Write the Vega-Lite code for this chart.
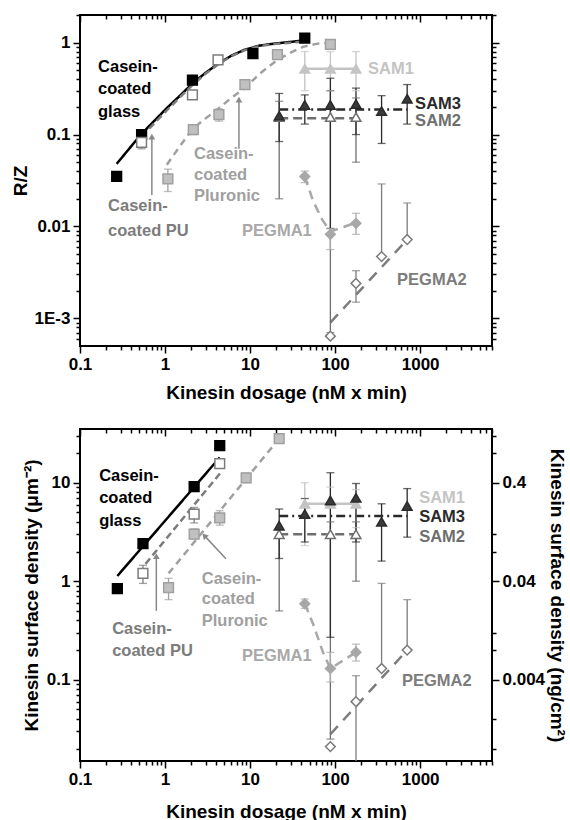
{
"$schema":"https://vega.github.io/schema/vega-lite/v6.json",
"padding":{"left":10,"top":13,"right":0,"bottom":0},
"spacing":24,
"config":{"font":"Liberation Sans","view":{"stroke":"black","strokeWidth":2},
 "axis":{"labelFont":"Liberation Sans","labelFontWeight":"bold","labelFontSize":17,"titleFont":"Liberation Sans","titleFontWeight":"bold","titleFontSize":19,"domain":false,"grid":false,"tickColor":"black","tickWidth":1.5,"labelColor":"black","titleColor":"black","labelFlush":false}},
"datasets":{
 "tl":[
  {"s":"glass","x":0.27,"y":0.048},{"s":"glass","x":0.52,"y":0.1},{"s":"glass","x":1.06,"y":0.196},{"s":"glass","x":1.5,"y":0.265},{"s":"glass","x":2.1,"y":0.36},{"s":"glass","x":3,"y":0.47},{"s":"glass","x":4.2,"y":0.59},{"s":"glass","x":6,"y":0.72},{"s":"glass","x":8.7,"y":0.84},{"s":"glass","x":13,"y":0.93},{"s":"glass","x":20,"y":0.98},{"s":"glass","x":30,"y":1.02},{"s":"glass","x":44,"y":1.06},
  {"s":"PU","x":0.53,"y":0.095},{"s":"PU","x":1.06,"y":0.185},{"s":"PU","x":1.5,"y":0.255},{"s":"PU","x":2.1,"y":0.345},{"s":"PU","x":3,"y":0.46},{"s":"PU","x":4.2,"y":0.58},{"s":"PU","x":6,"y":0.71},{"s":"PU","x":8.7,"y":0.83},{"s":"PU","x":13,"y":0.92},{"s":"PU","x":20,"y":0.97},{"s":"PU","x":30,"y":1.0},{"s":"PU","x":44,"y":1.03},
  {"s":"Pluronic","x":1.05,"y":0.047},{"s":"Pluronic","x":1.5,"y":0.075},{"s":"Pluronic","x":2.1,"y":0.115},{"s":"Pluronic","x":3,"y":0.15},{"s":"Pluronic","x":4.2,"y":0.19},{"s":"Pluronic","x":6,"y":0.25},{"s":"Pluronic","x":8.7,"y":0.32},{"s":"Pluronic","x":13,"y":0.46},{"s":"Pluronic","x":21,"y":0.65},{"s":"Pluronic","x":30,"y":0.78},{"s":"Pluronic","x":42,"y":0.9},{"s":"Pluronic","x":60,"y":0.97},{"s":"Pluronic","x":88,"y":1.0},
  {"s":"SAM1","x":44,"y":0.52},{"s":"SAM1","x":176,"y":0.52},
  {"s":"SAM3","x":22,"y":0.187},{"s":"SAM3","x":704,"y":0.187},
  {"s":"SAM2","x":22,"y":0.15},{"s":"SAM2","x":176,"y":0.15},
  {"s":"PEGMA1","x":44,"y":0.035},{"s":"PEGMA1","x":55,"y":0.019},{"s":"PEGMA1","x":70,"y":0.012},{"s":"PEGMA1","x":88,"y":0.0088},{"s":"PEGMA1","x":176,"y":0.011},
  {"s":"PEGMA2","x":88,"y":0.0009},{"s":"PEGMA2","x":704,"y":0.0072}],
 "tp":[
  {"s":"glass","x":0.27,"y":0.035},{"s":"glass","x":0.53,"y":0.1},{"s":"glass","x":2.1,"y":0.39},{"s":"glass","x":10.8,"y":0.76},{"s":"glass","x":44,"y":1.12},
  {"s":"PU","x":0.53,"y":0.082},{"s":"PU","x":2.1,"y":0.27},{"s":"PU","x":4.2,"y":0.65},
  {"s":"Pluronic","x":1.08,"y":0.033},{"s":"Pluronic","x":2.15,"y":0.113},{"s":"Pluronic","x":4.3,"y":0.165},{"s":"Pluronic","x":8.7,"y":0.35},{"s":"Pluronic","x":21,"y":0.74},{"s":"Pluronic","x":88,"y":0.96},
  {"s":"SAM1","x":44,"y":0.52},{"s":"SAM1","x":88,"y":0.52},{"s":"SAM1","x":176,"y":0.52},
  {"s":"SAM2","x":22,"y":0.155},{"s":"SAM2","x":88,"y":0.155},{"s":"SAM2","x":176,"y":0.155},
  {"s":"SAM3","x":22,"y":0.16},{"s":"SAM3","x":44,"y":0.21},{"s":"SAM3","x":88,"y":0.21},{"s":"SAM3","x":176,"y":0.215},{"s":"SAM3","x":352,"y":0.18},{"s":"SAM3","x":704,"y":0.245},
  {"s":"PEGMA1","x":44,"y":0.035},{"s":"PEGMA1","x":88,"y":0.0082},{"s":"PEGMA1","x":176,"y":0.0108},
  {"s":"PEGMA2","x":88,"y":0.00064},{"s":"PEGMA2","x":176,"y":0.0024},{"s":"PEGMA2","x":352,"y":0.0047},{"s":"PEGMA2","x":704,"y":0.0072}],
 "te":[
  {"s":"PU","x":0.53,"lo":0.07,"hi":0.092},{"s":"PU","x":2.1,"lo":0.25,"hi":0.29},
  {"s":"Pluronic","x":1.08,"lo":0.024,"hi":0.042},{"s":"Pluronic","x":2.15,"lo":0.1,"hi":0.125},{"s":"Pluronic","x":4.3,"lo":0.14,"hi":0.19},{"s":"Pluronic","x":8.7,"lo":0.32,"hi":0.38},{"s":"Pluronic","x":21,"lo":0.68,"hi":0.8},{"s":"Pluronic","x":88,"lo":0.88,"hi":1.05},
  {"s":"SAM1","x":44,"lo":0.3,"hi":0.8},{"s":"SAM1","x":88,"lo":0.3,"hi":0.8},{"s":"SAM1","x":176,"lo":0.3,"hi":0.8},
  {"s":"SAM2","x":22,"lo":0.02,"hi":0.23},{"s":"SAM2","x":88,"lo":0.0007,"hi":0.3},{"s":"SAM2","x":176,"lo":0.05,"hi":0.25},
  {"s":"SAM3","x":22,"lo":0.084,"hi":0.28},{"s":"SAM3","x":44,"lo":0.13,"hi":0.27},{"s":"SAM3","x":88,"lo":0.0095,"hi":0.41},{"s":"SAM3","x":176,"lo":0.1,"hi":0.32},{"s":"SAM3","x":352,"lo":0.08,"hi":0.265},{"s":"SAM3","x":704,"lo":0.13,"hi":0.35},
  {"s":"PEGMA1","x":44,"lo":0.03,"hi":0.04},{"s":"PEGMA1","x":88,"lo":0.0056,"hi":0.0095},{"s":"PEGMA1","x":176,"lo":0.0082,"hi":0.0139},
  {"s":"PEGMA2","x":176,"lo":0.0015,"hi":0.0033},{"s":"PEGMA2","x":352,"lo":0.0047,"hi":0.029},{"s":"PEGMA2","x":704,"lo":0.0072,"hi":0.018}],
 "ta":[{"x":0.7,"y":0.022,"x2":0.7,"y2":0.095,"ang":0},{"x":7.4,"y":0.07,"x2":7.4,"y2":0.24,"ang":0}],
 "tt":[
  {"s":"glass","x":0.163,"y":0.548,"t":"Casein-"},{"s":"glass","x":0.163,"y":0.316,"t":"coated"},{"s":"glass","x":0.163,"y":0.178,"t":"glass"},
  {"s":"PU","x":0.214,"y":0.0165,"t":"Casein-"},{"s":"PU","x":0.214,"y":0.00883,"t":"coated PU"},
  {"s":"Pluronic","x":2.19,"y":0.0622,"t":"Casein-"},{"s":"Pluronic","x":2.19,"y":0.0367,"t":"coated"},{"s":"Pluronic","x":2.19,"y":0.0212,"t":"Pluronic"},
  {"s":"PEGMA1","x":8.05,"y":0.00883,"t":"PEGMA1"},{"s":"PEGMA2","x":536,"y":0.00259,"t":"PEGMA2"},
  {"s":"SAM1","x":244,"y":0.522,"t":"SAM1"},{"s":"SAM3","x":873,"y":0.217,"t":"SAM3"},{"s":"SAM2","x":873,"y":0.142,"t":"SAM2"}],
 "bl":[
  {"s":"glass","x":0.275,"y":1.13},{"s":"glass","x":4.4,"y":18},
  {"s":"PU","x":0.59,"y":1.5},{"s":"PU","x":4.5,"y":12.6},
  {"s":"Pluronic","x":1.1,"y":1.2},{"s":"Pluronic","x":22,"y":28},
  {"s":"SAM1","x":44,"y":6.1},{"s":"SAM1","x":176,"y":6.1},
  {"s":"SAM3","x":22,"y":4.6},{"s":"SAM3","x":704,"y":4.6},
  {"s":"SAM2","x":22,"y":3.0},{"s":"SAM2","x":176,"y":3.0},
  {"s":"PEGMA1","x":44,"y":0.59},{"s":"PEGMA1","x":55,"y":0.37},{"s":"PEGMA1","x":72,"y":0.19},{"s":"PEGMA1","x":88,"y":0.13},{"s":"PEGMA1","x":176,"y":0.19},
  {"s":"PEGMA2","x":88,"y":0.028},{"s":"PEGMA2","x":704,"y":0.2}],
 "bp":[
  {"s":"glass","x":0.275,"y":0.84},{"s":"glass","x":0.55,"y":2.4},{"s":"glass","x":2.2,"y":9.1},{"s":"glass","x":4.4,"y":23.8},
  {"s":"PU","x":0.55,"y":1.2},{"s":"PU","x":2.2,"y":4.8},{"s":"PU","x":4.4,"y":15.6},
  {"s":"Pluronic","x":1.1,"y":0.86},{"s":"Pluronic","x":2.2,"y":3.0},{"s":"Pluronic","x":4.4,"y":4.4},{"s":"Pluronic","x":9.0,"y":11.2},{"s":"Pluronic","x":22,"y":28},
  {"s":"SAM1","x":44,"y":6.1},{"s":"SAM1","x":88,"y":6.1},{"s":"SAM1","x":176,"y":6.1},
  {"s":"SAM2","x":22,"y":3.0},{"s":"SAM2","x":88,"y":3.0},{"s":"SAM2","x":176,"y":3.0},
  {"s":"SAM3","x":22,"y":3.66},{"s":"SAM3","x":44,"y":4.8},{"s":"SAM3","x":88,"y":6.6},{"s":"SAM3","x":176,"y":7.0},{"s":"SAM3","x":352,"y":4.0},{"s":"SAM3","x":704,"y":5.8},
  {"s":"PEGMA1","x":44,"y":0.59},{"s":"PEGMA1","x":88,"y":0.13},{"s":"PEGMA1","x":176,"y":0.19},
  {"s":"PEGMA2","x":88,"y":0.021},{"s":"PEGMA2","x":176,"y":0.06},{"s":"PEGMA2","x":352,"y":0.13},{"s":"PEGMA2","x":704,"y":0.2}],
 "be":[
  {"s":"glass","x":0.275,"lo":0.78,"hi":0.9},
  {"s":"PU","x":0.55,"lo":0.95,"hi":1.45},{"s":"PU","x":2.2,"lo":3.9,"hi":5.6},{"s":"PU","x":4.4,"lo":14,"hi":17},
  {"s":"Pluronic","x":1.1,"lo":0.65,"hi":1.07},{"s":"Pluronic","x":2.2,"lo":2.7,"hi":3.4},{"s":"Pluronic","x":4.4,"lo":3.7,"hi":5.2},{"s":"Pluronic","x":9.0,"lo":10,"hi":12.5},{"s":"Pluronic","x":22,"lo":26,"hi":30},
  {"s":"SAM1","x":44,"lo":2.3,"hi":10},{"s":"SAM1","x":88,"lo":3,"hi":9},{"s":"SAM1","x":176,"lo":3.5,"hi":8.5},
  {"s":"SAM2","x":22,"lo":0.5,"hi":3.5},{"s":"SAM2","x":88,"lo":0.025,"hi":4},{"s":"SAM2","x":176,"lo":1.0,"hi":4},
  {"s":"SAM3","x":22,"lo":1.7,"hi":5.4},{"s":"SAM3","x":44,"lo":2.5,"hi":6.9},{"s":"SAM3","x":88,"lo":0.27,"hi":12.6},{"s":"SAM3","x":176,"lo":2.5,"hi":9.8},{"s":"SAM3","x":352,"lo":1.6,"hi":6.1},{"s":"SAM3","x":704,"lo":2.8,"hi":8.7},
  {"s":"PEGMA1","x":44,"lo":0.53,"hi":0.66},{"s":"PEGMA1","x":88,"lo":0.095,"hi":0.19},{"s":"PEGMA1","x":176,"lo":0.155,"hi":0.23},
  {"s":"PEGMA2","x":176,"lo":0.01,"hi":0.11},{"s":"PEGMA2","x":352,"lo":0.13,"hi":0.95},{"s":"PEGMA2","x":704,"lo":0.2,"hi":0.65}],
 "ba":[{"x":0.79,"y":0.5,"x2":0.79,"y2":1.8,"ang":0},{"x":5.2,"y":1.69,"x2":2.9,"y2":2.9,"ang":-42}],
 "bt":[
  {"s":"glass","x":0.168,"y":11.8,"t":"Casein-"},{"s":"glass","x":0.168,"y":7.04,"t":"coated"},{"s":"glass","x":0.168,"y":4.11,"t":"glass"},
  {"s":"Pluronic","x":2.7,"y":1.06,"t":"Casein-"},{"s":"Pluronic","x":2.7,"y":0.664,"t":"coated"},{"s":"Pluronic","x":2.7,"y":0.397,"t":"Pluronic"},
  {"s":"PU","x":0.239,"y":0.33,"t":"Casein-"},{"s":"PU","x":0.239,"y":0.197,"t":"coated PU"},
  {"s":"PEGMA1","x":8.04,"y":0.175,"t":"PEGMA1"},{"s":"PEGMA2","x":612,"y":0.098,"t":"PEGMA2"},
  {"s":"SAM1","x":973,"y":7.04,"t":"SAM1"},{"s":"SAM3","x":973,"y":4.52,"t":"SAM3"},{"s":"SAM2","x":973,"y":2.83,"t":"SAM2"}]
},
"vconcat":[
{
 "width":412,"height":331,
 "resolve":{"axis":{"x":"independent","y":"independent"}},
 "layer":[
  {"data":{"name":"tl"},"mark":{"type":"line","strokeWidth":2.5,"clip":true},
   "encoding":{
    "x":{"field":"x","type":"quantitative","scale":{"type":"log","domain":[0.1,7000],"nice":false},"axis":{"orient":"bottom","values":[0.1,1,10,100,1000],"format":"~g","labelFlush":false,"tickSize":7,"labelPadding":3,"title":"Kinesin dosage (nM x min)","titleBaseline":"middle","titleY":46}},
    "y":{"field":"y","type":"quantitative","scale":{"type":"log","domain":[0.0005,2],"nice":false},"axis":{"orient":"left","values":[0.001,0.01,0.1,1],"labelExpr":"datum.value < 0.005 ? '1E-3' : format(datum.value, '~g')","labelAlign":"right","labelBaseline":"middle","tickSize":7,"labelPadding":3,"title":"R/Z","titleBaseline":"middle","titleX":-60}},
    "color":{"field":"s","type":"nominal","scale":{"domain":["glass","PU","Pluronic","SAM1","SAM2","SAM3","PEGMA1","PEGMA2"],"range":["#000000","#7c7c7c","#a0a0a0","#c4c4c4","#6e6e6e","#2a2a2a","#a8a8a8","#7c7c7c"]},"legend":null},
    "strokeDash":{"field":"s","type":"nominal","scale":{"domain":["glass","PU","Pluronic","SAM1","SAM2","SAM3","PEGMA1","PEGMA2"],"range":[[1,0],[7,4],[7,5],[1,0],[9,5],[9,4,2,4],[9,6],[11,8]]},"legend":null}}},
  {"data":{"name":"te"},"mark":{"type":"rule","strokeWidth":1.3,"clip":true},
   "encoding":{
    "x":{"field":"x","type":"quantitative","axis":{"orient":"bottom","values":[0.2,0.3,0.4,0.5,0.6,0.7,0.8,0.9,2,3,4,5,6,7,8,9,20,30,40,50,60,70,80,90,200,300,400,500,600,700,800,900,2000,3000,4000,5000,6000,7000],"labels":false,"tickSize":4,"title":null}},
    "y":{"field":"lo","type":"quantitative","axis":{"orient":"left","values":[0.0006,0.0007,0.0008,0.0009,0.002,0.003,0.004,0.005,0.006,0.007,0.008,0.009,0.02,0.03,0.04,0.05,0.06,0.07,0.08,0.09,0.2,0.3,0.4,0.5,0.6,0.7,0.8,0.9,2],"labels":false,"tickSize":4,"title":null}},
    "y2":{"field":"hi"},
    "color":{"field":"s","type":"nominal","legend":null}}},
  {"data":{"name":"te"},"transform":[{"fold":["lo","hi"],"as":["k","v"]}],"mark":{"type":"tick","orient":"horizontal","size":8,"thickness":1.3,"clip":true},
   "encoding":{
    "x":{"field":"x","type":"quantitative","axis":{"orient":"top","values":[0.1,1,10,100,1000],"labels":false,"tickSize":-7,"title":null}},
    "y":{"field":"v","type":"quantitative","axis":{"orient":"right","values":[0.001,0.01,0.1,1],"labels":false,"tickSize":7,"title":null}},
    "color":{"field":"s","type":"nominal","legend":null}}},
  {"data":{"name":"tp"},"mark":{"type":"point","filled":true,"size":95,"strokeWidth":1.5,"opacity":1,"clip":true},
   "encoding":{
    "x":{"field":"x","type":"quantitative","axis":{"orient":"top","values":[0.2,0.3,0.4,0.5,0.6,0.7,0.8,0.9,2,3,4,5,6,7,8,9,20,30,40,50,60,70,80,90,200,300,400,500,600,700,800,900,2000,3000,4000,5000,6000,7000],"labels":false,"tickSize":-4,"title":null}},
    "y":{"field":"y","type":"quantitative","axis":{"orient":"right","values":[0.0006,0.0007,0.0008,0.0009,0.002,0.003,0.004,0.005,0.006,0.007,0.008,0.009,0.02,0.03,0.04,0.05,0.06,0.07,0.08,0.09,0.2,0.3,0.4,0.5,0.6,0.7,0.8,0.9,2],"labels":false,"tickSize":4,"title":null}},
    "shape":{"field":"s","type":"nominal","scale":{"domain":["glass","PU","Pluronic","SAM1","SAM2","SAM3","PEGMA1","PEGMA2"],"range":["square","square","square","triangle-up","triangle-up","triangle-up","diamond","diamond"]},"legend":null},
    "fill":{"field":"s","type":"nominal","scale":{"domain":["glass","PU","Pluronic","SAM1","SAM2","SAM3","PEGMA1","PEGMA2"],"range":["#000000","#ffffff","#c0c0c0","#c4c4c4","#ffffff","#3a3a3a","#a8a8a8","#ffffff"]},"legend":null},
    "stroke":{"field":"s","type":"nominal","scale":{"domain":["glass","PU","Pluronic","SAM1","SAM2","SAM3","PEGMA1","PEGMA2"],"range":["#000000","#7c7c7c","#a0a0a0","#c4c4c4","#6e6e6e","#2a2a2a","#a8a8a8","#7c7c7c"]},"legend":null}}},
  {"data":{"name":"ta"},"mark":{"type":"rule","color":"#888888","strokeWidth":1.5},
   "encoding":{"x":{"field":"x","type":"quantitative","axis":null},"y":{"field":"y","type":"quantitative","axis":null},"x2":{"field":"x2"},"y2":{"field":"y2"}}},
  {"data":{"name":"ta"},"mark":{"type":"point","shape":"triangle-up","filled":true,"color":"#888888","size":45,"opacity":1},
   "encoding":{"x":{"field":"x2","type":"quantitative","axis":null},"y":{"field":"y2","type":"quantitative","axis":null},"angle":{"field":"ang","type":"quantitative","scale":null}}},
  {"data":{"name":"tt"},"mark":{"type":"text","align":"left","baseline":"middle","fontSize":16.5,"fontWeight":"bold","font":"Liberation Sans"},
   "encoding":{"x":{"field":"x","type":"quantitative","axis":null},"y":{"field":"y","type":"quantitative","axis":null},"text":{"field":"t"},"color":{"field":"s","type":"nominal","legend":null}}}
 ]
},
{
 "width":412,"height":332,
 "resolve":{"axis":{"x":"independent","y":"independent"}},
 "layer":[
  {"data":{"name":"bl"},"mark":{"type":"line","strokeWidth":2.5,"clip":true},
   "encoding":{
    "x":{"field":"x","type":"quantitative","scale":{"type":"log","domain":[0.1,7000],"nice":false},"axis":{"orient":"bottom","values":[0.1,1,10,100,1000],"format":"~g","labelFlush":false,"tickSize":7,"labelPadding":3,"title":"Kinesin dosage (nM x min)","titleBaseline":"middle","titleY":50}},
    "y":{"field":"y","type":"quantitative","scale":{"type":"log","domain":[0.015,35],"nice":false},"axis":{"orient":"left","values":[0.1,1,10],"format":"~g","labelAlign":"right","labelBaseline":"middle","tickSize":7,"labelPadding":3,"title":"Kinesin surface density (μm⁻²)","titleBaseline":"middle","titleX":-49}},
    "color":{"field":"s","type":"nominal","scale":{"domain":["glass","PU","Pluronic","SAM1","SAM2","SAM3","PEGMA1","PEGMA2"],"range":["#000000","#7c7c7c","#a0a0a0","#c4c4c4","#6e6e6e","#2a2a2a","#a8a8a8","#7c7c7c"]},"legend":null},
    "strokeDash":{"field":"s","type":"nominal","scale":{"domain":["glass","PU","Pluronic","SAM1","SAM2","SAM3","PEGMA1","PEGMA2"],"range":[[1,0],[7,4],[7,5],[1,0],[9,5],[9,4,2,4],[9,6],[11,8]]},"legend":null}}},
  {"data":{"name":"be"},"mark":{"type":"rule","strokeWidth":1.3,"clip":true},
   "encoding":{
    "x":{"field":"x","type":"quantitative","axis":{"orient":"bottom","values":[0.2,0.3,0.4,0.5,0.6,0.7,0.8,0.9,2,3,4,5,6,7,8,9,20,30,40,50,60,70,80,90,200,300,400,500,600,700,800,900,2000,3000,4000,5000,6000,7000],"labels":false,"tickSize":4,"title":null}},
    "y":{"field":"lo","type":"quantitative","axis":{"orient":"left","values":[0.02,0.03,0.04,0.05,0.06,0.07,0.08,0.09,0.2,0.3,0.4,0.5,0.6,0.7,0.8,0.9,2,3,4,5,6,7,8,9,20,30],"labels":false,"tickSize":4,"title":null}},
    "y2":{"field":"hi"},
    "color":{"field":"s","type":"nominal","legend":null}}},
  {"data":{"name":"be"},"transform":[{"fold":["lo","hi"],"as":["k","v"]}],"mark":{"type":"tick","orient":"horizontal","size":8,"thickness":1.3,"clip":true},
   "encoding":{
    "x":{"field":"x","type":"quantitative","axis":{"orient":"top","values":[0.1,1,10,100,1000],"labels":false,"tickSize":-7,"title":null}},
    "y":{"field":"v","type":"quantitative","axis":{"orient":"right","values":[0.1,1,10],"labelExpr":"datum.value > 5 ? '0.4' : datum.value > 0.5 ? '0.04' : '0.004'","labelAlign":"left","labelBaseline":"middle","tickSize":7,"labelPadding":3,"title":"Kinesin surface density (ng/cm²)","titleBaseline":"middle","titleX":64}},
    "color":{"field":"s","type":"nominal","legend":null}}},
  {"data":{"name":"bp"},"mark":{"type":"point","filled":true,"size":95,"strokeWidth":1.5,"opacity":1,"clip":true},
   "encoding":{
    "x":{"field":"x","type":"quantitative","axis":{"orient":"top","values":[0.2,0.3,0.4,0.5,0.6,0.7,0.8,0.9,2,3,4,5,6,7,8,9,20,30,40,50,60,70,80,90,200,300,400,500,600,700,800,900,2000,3000,4000,5000,6000,7000],"labels":false,"tickSize":-4,"title":null}},
    "y":{"field":"y","type":"quantitative","axis":{"orient":"right","values":[0.02,0.04,0.2,0.3,2,3,20,30],"labels":false,"tickSize":4,"title":null}},
    "shape":{"field":"s","type":"nominal","scale":{"domain":["glass","PU","Pluronic","SAM1","SAM2","SAM3","PEGMA1","PEGMA2"],"range":["square","square","square","triangle-up","triangle-up","triangle-up","diamond","diamond"]},"legend":null},
    "fill":{"field":"s","type":"nominal","scale":{"domain":["glass","PU","Pluronic","SAM1","SAM2","SAM3","PEGMA1","PEGMA2"],"range":["#000000","#ffffff","#c0c0c0","#c4c4c4","#ffffff","#3a3a3a","#a8a8a8","#ffffff"]},"legend":null},
    "stroke":{"field":"s","type":"nominal","scale":{"domain":["glass","PU","Pluronic","SAM1","SAM2","SAM3","PEGMA1","PEGMA2"],"range":["#000000","#7c7c7c","#a0a0a0","#c4c4c4","#6e6e6e","#2a2a2a","#a8a8a8","#7c7c7c"]},"legend":null}}},
  {"data":{"name":"ba"},"mark":{"type":"rule","color":"#888888","strokeWidth":1.5},
   "encoding":{"x":{"field":"x","type":"quantitative","axis":null},"y":{"field":"y","type":"quantitative","axis":null},"x2":{"field":"x2"},"y2":{"field":"y2"}}},
  {"data":{"name":"ba"},"mark":{"type":"point","shape":"triangle-up","filled":true,"color":"#888888","size":45,"opacity":1},
   "encoding":{"x":{"field":"x2","type":"quantitative","axis":null},"y":{"field":"y2","type":"quantitative","axis":null},"angle":{"field":"ang","type":"quantitative","scale":null}}},
  {"data":{"name":"bt"},"mark":{"type":"text","align":"left","baseline":"middle","fontSize":16.5,"fontWeight":"bold","font":"Liberation Sans"},
   "encoding":{"x":{"field":"x","type":"quantitative","axis":null},"y":{"field":"y","type":"quantitative","axis":null},"text":{"field":"t"},"color":{"field":"s","type":"nominal","legend":null}}}
 ]
}
]
}
